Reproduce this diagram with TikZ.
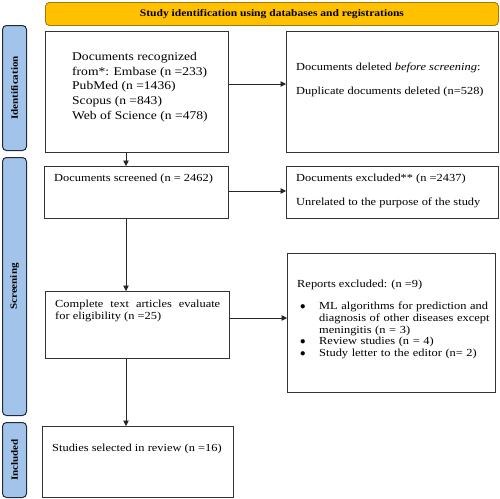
\documentclass[tikz,border=0pt]{standalone}
\usepackage{fontspec}
\setmainfont{Liberation Serif}[FakeStretch=1.15]
\usetikzlibrary{arrows.meta}
\definecolor{hdrfill}{HTML}{FFC000}
\definecolor{hdrdraw}{HTML}{A07A10}
\definecolor{sidefill}{HTML}{A3C4EA}
\definecolor{sidedraw}{HTML}{1F2A3A}
\tikzset{
  box/.style={draw=black!80, line width=0.9pt, anchor=north west, inner sep=0pt},
  sidebar/.style={draw=sidedraw, fill=sidefill, line width=1pt, rounded corners=4pt, anchor=north west, inner sep=0pt},
  sidelabel/.style={rotate=90, font=\bfseries\fontsize{9.6}{11}\selectfont},
  txt/.style={anchor=north west, inner sep=0pt, align=left, font=\fontsize{10.8}{11.6}\selectfont},
  conn/.style={draw=black!85, line width=0.7pt, -{Triangle[length=5.5pt,width=5.5pt]}},
}
\begin{document}
\begin{tikzpicture}[x=1pt,y=-1pt]
\useasboundingbox (0,0) rectangle (500,498);
% header
\node[draw=hdrdraw, fill=hdrfill, line width=0.9pt, rounded corners=4pt, anchor=north west, minimum width=453pt, minimum height=23pt, inner sep=0pt, font=\bfseries\fontsize{10.05}{11}\selectfont] (hdr) at (45,2) {Study identification using databases and registrations};
% side bars
\node[sidebar, minimum width=24pt, minimum height=125pt] (sid) at (2,25) {};
\node[sidelabel] at (sid.center) {Identification};
\node[sidebar, minimum width=24pt, minimum height=258pt] (ssc) at (2,157) {};
\node[sidelabel] at (ssc.center) {Screening};
\node[sidebar, minimum width=24pt, minimum height=75pt] (sin) at (2,422) {};
\node[sidelabel] at (sin.center) {Included};
% boxes
\node[box, minimum width=183pt, minimum height=121pt] (b1) at (45,31) {};
\node[box, minimum width=212pt, minimum height=121pt] (b2) at (286,31) {};
\node[box, minimum width=184pt, minimum height=52pt] (b3) at (44,166) {};
\node[box, minimum width=212pt, minimum height=52pt] (b4) at (286,166) {};
\node[box, minimum width=208pt, minimum height=139pt] (b5) at (287,253) {};
\node[box, minimum width=184pt, minimum height=67pt] (b6) at (45,291) {};
\node[box, minimum width=191pt, minimum height=71pt] (b7) at (42,426) {};
% texts
\node[txt, font=\fontsize{11.8}{14.8}\selectfont] (t1) at (72,52) {Documents recognized\\from*: Embase (n =233)\\PubMed (n =1436)\\Scopus (n =843)\\Web of Science (n =478)};
\node[txt] (t2a) at (296,63) {Documents deleted \textit{before screening}:};
\node[txt] (t2b) at (296,87) {Duplicate documents deleted (n=528)};
\node[txt] (t3) at (54,174) {Documents screened (n = 2462)};
\node[txt] (t4a) at (296,174) {Documents excluded** (n =2437)};
\node[txt] (t4b) at (296,198) {Unrelated to the purpose of the study};
\node[txt] (t5) at (297,280) {Reports excluded: (n =9)};
\node[txt, text width=195pt] (t5b) at (297,302) {%
  \makebox[22pt][l]{\hspace{3pt}$\bullet$}ML algorithms for prediction and\\
  \hspace*{22pt}diagnosis of other diseases except\\
  \hspace*{22pt}meningitis (n = 3)\\
  \makebox[22pt][l]{\hspace{3pt}$\bullet$}Review studies (n = 4)\\
  \makebox[22pt][l]{\hspace{3pt}$\bullet$}Study letter to the editor (n= 2)};
\node[txt, text width=165pt, align=justify] (t6) at (55,300) {Complete text articles evaluate for eligibility (n =25)};
\node[txt] (t7) at (52,444) {Studies selected in review (n =16)};
% connectors
\draw[conn] (b1.east |- 0,84) -- (b2.west |- 0,84);
\draw[conn] (b1.south -| 126,0) -- (b3.north -| 126,0);
\draw[conn] (b3.east |- 0,191) -- (b4.west |- 0,191);
\draw[conn] (b3.south -| 126,0) -- (b6.north -| 126,0);
\draw[conn] (b6.east |- 0,318) -- (b5.west |- 0,318);
\draw[conn] (b6.south -| 126,0) -- (b7.north -| 126,0);
\end{tikzpicture}
\end{document}
